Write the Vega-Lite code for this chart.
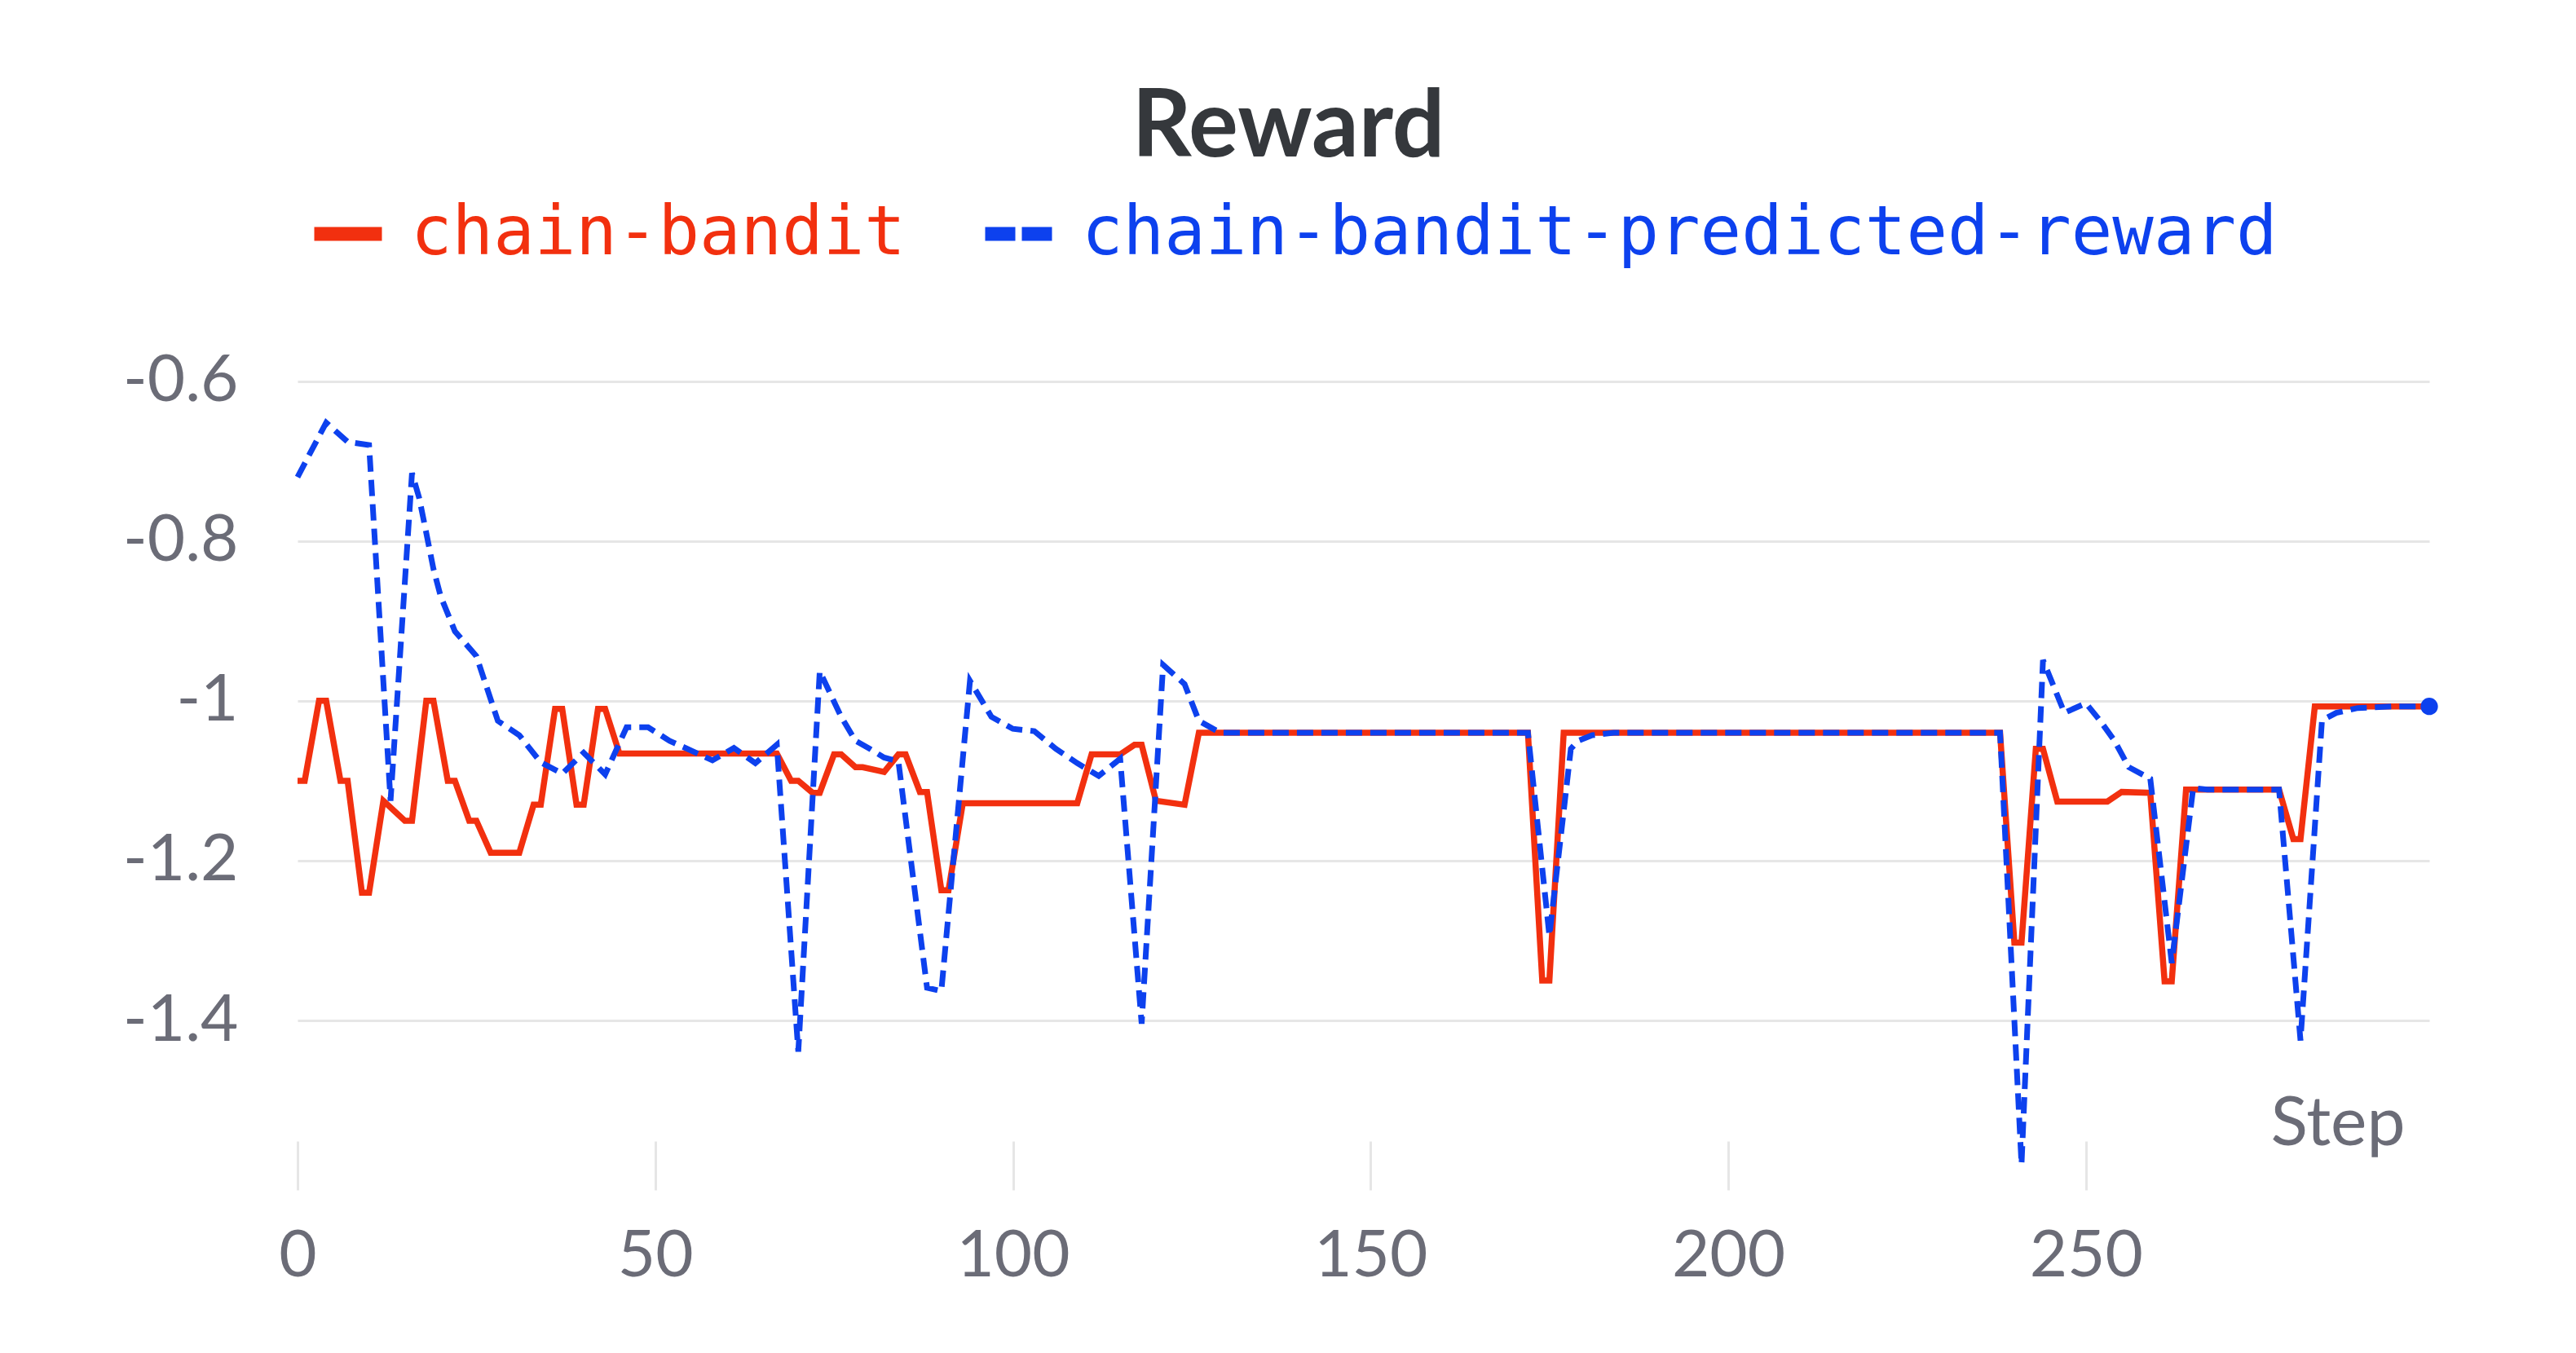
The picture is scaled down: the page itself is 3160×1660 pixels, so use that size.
{
  "$schema": "https://vega.github.io/schema/vega-lite/v6.json",
  "width": 2615,
  "height": 1012,
  "autosize": {"type": "none"},
  "padding": {"left": 365, "top": 448, "right": 180, "bottom": 200},
  "background": "white",
  "config": {"view": {"stroke": null}, "font": "Lato"},
  "title": {"text": "Reward", "font": "Lato", "fontSize": 114, "fontWeight": "bold", "color": "#35383c", "anchor": "middle", "frame": "group", "dx": -92, "offset": 21},
  "data": {"values": [
    {"step": 0, "series": "chain-bandit", "reward": -1.1},
    {"step": 1, "series": "chain-bandit", "reward": -1.1},
    {"step": 3, "series": "chain-bandit", "reward": -1.0},
    {"step": 4, "series": "chain-bandit", "reward": -1.0},
    {"step": 6, "series": "chain-bandit", "reward": -1.1},
    {"step": 7, "series": "chain-bandit", "reward": -1.1},
    {"step": 9, "series": "chain-bandit", "reward": -1.24},
    {"step": 10, "series": "chain-bandit", "reward": -1.24},
    {"step": 12, "series": "chain-bandit", "reward": -1.125},
    {"step": 15, "series": "chain-bandit", "reward": -1.15},
    {"step": 16, "series": "chain-bandit", "reward": -1.15},
    {"step": 18, "series": "chain-bandit", "reward": -1.0},
    {"step": 19, "series": "chain-bandit", "reward": -1.0},
    {"step": 21, "series": "chain-bandit", "reward": -1.1},
    {"step": 22, "series": "chain-bandit", "reward": -1.1},
    {"step": 24, "series": "chain-bandit", "reward": -1.15},
    {"step": 25, "series": "chain-bandit", "reward": -1.15},
    {"step": 27, "series": "chain-bandit", "reward": -1.19},
    {"step": 31, "series": "chain-bandit", "reward": -1.19},
    {"step": 33, "series": "chain-bandit", "reward": -1.13},
    {"step": 34, "series": "chain-bandit", "reward": -1.13},
    {"step": 36, "series": "chain-bandit", "reward": -1.01},
    {"step": 37, "series": "chain-bandit", "reward": -1.01},
    {"step": 39, "series": "chain-bandit", "reward": -1.13},
    {"step": 40, "series": "chain-bandit", "reward": -1.13},
    {"step": 42, "series": "chain-bandit", "reward": -1.01},
    {"step": 43, "series": "chain-bandit", "reward": -1.01},
    {"step": 45, "series": "chain-bandit", "reward": -1.066},
    {"step": 67, "series": "chain-bandit", "reward": -1.066},
    {"step": 69, "series": "chain-bandit", "reward": -1.1},
    {"step": 70, "series": "chain-bandit", "reward": -1.1},
    {"step": 72, "series": "chain-bandit", "reward": -1.115},
    {"step": 73, "series": "chain-bandit", "reward": -1.115},
    {"step": 75, "series": "chain-bandit", "reward": -1.067},
    {"step": 76, "series": "chain-bandit", "reward": -1.067},
    {"step": 78, "series": "chain-bandit", "reward": -1.083},
    {"step": 79, "series": "chain-bandit", "reward": -1.083},
    {"step": 81, "series": "chain-bandit", "reward": -1.087},
    {"step": 82, "series": "chain-bandit", "reward": -1.089},
    {"step": 84, "series": "chain-bandit", "reward": -1.067},
    {"step": 85, "series": "chain-bandit", "reward": -1.067},
    {"step": 87, "series": "chain-bandit", "reward": -1.114},
    {"step": 88, "series": "chain-bandit", "reward": -1.114},
    {"step": 90, "series": "chain-bandit", "reward": -1.237},
    {"step": 91, "series": "chain-bandit", "reward": -1.237},
    {"step": 93, "series": "chain-bandit", "reward": -1.128},
    {"step": 109, "series": "chain-bandit", "reward": -1.128},
    {"step": 111, "series": "chain-bandit", "reward": -1.067},
    {"step": 115, "series": "chain-bandit", "reward": -1.067},
    {"step": 117, "series": "chain-bandit", "reward": -1.055},
    {"step": 118, "series": "chain-bandit", "reward": -1.055},
    {"step": 120, "series": "chain-bandit", "reward": -1.125},
    {"step": 124, "series": "chain-bandit", "reward": -1.13},
    {"step": 126, "series": "chain-bandit", "reward": -1.04},
    {"step": 172, "series": "chain-bandit", "reward": -1.04},
    {"step": 174, "series": "chain-bandit", "reward": -1.35},
    {"step": 175, "series": "chain-bandit", "reward": -1.35},
    {"step": 177, "series": "chain-bandit", "reward": -1.04},
    {"step": 238, "series": "chain-bandit", "reward": -1.04},
    {"step": 240, "series": "chain-bandit", "reward": -1.3025},
    {"step": 241, "series": "chain-bandit", "reward": -1.3025},
    {"step": 243, "series": "chain-bandit", "reward": -1.06},
    {"step": 244, "series": "chain-bandit", "reward": -1.06},
    {"step": 246, "series": "chain-bandit", "reward": -1.126},
    {"step": 253, "series": "chain-bandit", "reward": -1.126},
    {"step": 255, "series": "chain-bandit", "reward": -1.114},
    {"step": 259, "series": "chain-bandit", "reward": -1.115},
    {"step": 261, "series": "chain-bandit", "reward": -1.351},
    {"step": 262, "series": "chain-bandit", "reward": -1.351},
    {"step": 264, "series": "chain-bandit", "reward": -1.111},
    {"step": 277, "series": "chain-bandit", "reward": -1.111},
    {"step": 279, "series": "chain-bandit", "reward": -1.173},
    {"step": 280, "series": "chain-bandit", "reward": -1.173},
    {"step": 282, "series": "chain-bandit", "reward": -1.007},
    {"step": 298, "series": "chain-bandit", "reward": -1.007},
    {"step": 0, "series": "chain-bandit-predicted-reward", "reward": -0.72},
    {"step": 4, "series": "chain-bandit-predicted-reward", "reward": -0.652},
    {"step": 7, "series": "chain-bandit-predicted-reward", "reward": -0.676},
    {"step": 10, "series": "chain-bandit-predicted-reward", "reward": -0.68},
    {"step": 13, "series": "chain-bandit-predicted-reward", "reward": -1.125},
    {"step": 16, "series": "chain-bandit-predicted-reward", "reward": -0.715},
    {"step": 17, "series": "chain-bandit-predicted-reward", "reward": -0.746},
    {"step": 18, "series": "chain-bandit-predicted-reward", "reward": -0.79},
    {"step": 19, "series": "chain-bandit-predicted-reward", "reward": -0.835},
    {"step": 20, "series": "chain-bandit-predicted-reward", "reward": -0.869},
    {"step": 22, "series": "chain-bandit-predicted-reward", "reward": -0.913},
    {"step": 25, "series": "chain-bandit-predicted-reward", "reward": -0.944},
    {"step": 28, "series": "chain-bandit-predicted-reward", "reward": -1.025},
    {"step": 31, "series": "chain-bandit-predicted-reward", "reward": -1.043},
    {"step": 34, "series": "chain-bandit-predicted-reward", "reward": -1.077},
    {"step": 37, "series": "chain-bandit-predicted-reward", "reward": -1.091},
    {"step": 40, "series": "chain-bandit-predicted-reward", "reward": -1.065},
    {"step": 43, "series": "chain-bandit-predicted-reward", "reward": -1.092},
    {"step": 46, "series": "chain-bandit-predicted-reward", "reward": -1.033},
    {"step": 49, "series": "chain-bandit-predicted-reward", "reward": -1.033},
    {"step": 52, "series": "chain-bandit-predicted-reward", "reward": -1.05},
    {"step": 54, "series": "chain-bandit-predicted-reward", "reward": -1.058},
    {"step": 58, "series": "chain-bandit-predicted-reward", "reward": -1.0745},
    {"step": 61, "series": "chain-bandit-predicted-reward", "reward": -1.059},
    {"step": 64, "series": "chain-bandit-predicted-reward", "reward": -1.078},
    {"step": 67, "series": "chain-bandit-predicted-reward", "reward": -1.055},
    {"step": 70, "series": "chain-bandit-predicted-reward", "reward": -1.439},
    {"step": 73, "series": "chain-bandit-predicted-reward", "reward": -0.963},
    {"step": 76, "series": "chain-bandit-predicted-reward", "reward": -1.02},
    {"step": 78, "series": "chain-bandit-predicted-reward", "reward": -1.05},
    {"step": 80, "series": "chain-bandit-predicted-reward", "reward": -1.06},
    {"step": 82, "series": "chain-bandit-predicted-reward", "reward": -1.071},
    {"step": 84, "series": "chain-bandit-predicted-reward", "reward": -1.076},
    {"step": 88, "series": "chain-bandit-predicted-reward", "reward": -1.359},
    {"step": 90, "series": "chain-bandit-predicted-reward", "reward": -1.363},
    {"step": 94, "series": "chain-bandit-predicted-reward", "reward": -0.975},
    {"step": 97, "series": "chain-bandit-predicted-reward", "reward": -1.02},
    {"step": 100, "series": "chain-bandit-predicted-reward", "reward": -1.035},
    {"step": 103, "series": "chain-bandit-predicted-reward", "reward": -1.038},
    {"step": 106, "series": "chain-bandit-predicted-reward", "reward": -1.06},
    {"step": 109, "series": "chain-bandit-predicted-reward", "reward": -1.078},
    {"step": 112, "series": "chain-bandit-predicted-reward", "reward": -1.094},
    {"step": 115, "series": "chain-bandit-predicted-reward", "reward": -1.0725},
    {"step": 118, "series": "chain-bandit-predicted-reward", "reward": -1.404},
    {"step": 121, "series": "chain-bandit-predicted-reward", "reward": -0.955},
    {"step": 124, "series": "chain-bandit-predicted-reward", "reward": -0.979},
    {"step": 126, "series": "chain-bandit-predicted-reward", "reward": -1.025},
    {"step": 129, "series": "chain-bandit-predicted-reward", "reward": -1.04},
    {"step": 172, "series": "chain-bandit-predicted-reward", "reward": -1.04},
    {"step": 175, "series": "chain-bandit-predicted-reward", "reward": -1.294},
    {"step": 178, "series": "chain-bandit-predicted-reward", "reward": -1.06},
    {"step": 179, "series": "chain-bandit-predicted-reward", "reward": -1.05},
    {"step": 181, "series": "chain-bandit-predicted-reward", "reward": -1.043},
    {"step": 184, "series": "chain-bandit-predicted-reward", "reward": -1.04},
    {"step": 238, "series": "chain-bandit-predicted-reward", "reward": -1.04},
    {"step": 241, "series": "chain-bandit-predicted-reward", "reward": -1.58},
    {"step": 244, "series": "chain-bandit-predicted-reward", "reward": -0.949},
    {"step": 247, "series": "chain-bandit-predicted-reward", "reward": -1.015},
    {"step": 250, "series": "chain-bandit-predicted-reward", "reward": -1.003},
    {"step": 252, "series": "chain-bandit-predicted-reward", "reward": -1.025},
    {"step": 254, "series": "chain-bandit-predicted-reward", "reward": -1.05},
    {"step": 256, "series": "chain-bandit-predicted-reward", "reward": -1.083},
    {"step": 259, "series": "chain-bandit-predicted-reward", "reward": -1.0975},
    {"step": 262, "series": "chain-bandit-predicted-reward", "reward": -1.328},
    {"step": 265, "series": "chain-bandit-predicted-reward", "reward": -1.109},
    {"step": 267, "series": "chain-bandit-predicted-reward", "reward": -1.111},
    {"step": 277, "series": "chain-bandit-predicted-reward", "reward": -1.111},
    {"step": 280, "series": "chain-bandit-predicted-reward", "reward": -1.425},
    {"step": 283, "series": "chain-bandit-predicted-reward", "reward": -1.0245},
    {"step": 285, "series": "chain-bandit-predicted-reward", "reward": -1.015},
    {"step": 288, "series": "chain-bandit-predicted-reward", "reward": -1.009},
    {"step": 293, "series": "chain-bandit-predicted-reward", "reward": -1.007},
    {"step": 298, "series": "chain-bandit-predicted-reward", "reward": -1.007}
  ]},
  "encoding": {
    "x": {
      "field": "step", "type": "quantitative",
      "scale": {"domain": [0, 298], "nice": false, "zero": false},
      "axis": {
        "values": [0, 50, 100, 150, 200, 250],
        "title": "Step", "grid": false, "domain": false,
        "ticks": true, "tickColor": "#e6e6e6", "tickWidth": 3, "tickSize": 60, "offset": -60,
        "labelFont": "Lato", "labelFontSize": 80, "labelColor": "#6b6c77", "labelPadding": 42,
        "labelFlush": false,
        "titleFont": "Lato", "titleFontSize": 84, "titleFontWeight": "normal", "titleColor": "#6b6c77",
        "titleX": 2585, "titleY": 4, "titleAlign": "right", "titleBaseline": "alphabetic", "titleAnchor": null
      }
    },
    "y": {
      "field": "reward", "type": "quantitative",
      "scale": {"domain": [-1.612, -0.58], "nice": false, "zero": false},
      "axis": {
        "values": [-1.4, -1.2, -1, -0.8, -0.6],
        "title": null, "domain": false, "ticks": false,
        "grid": true, "gridColor": "#e6e6e6", "gridWidth": 3,
        "labelFont": "Lato", "labelFontSize": 80, "labelColor": "#6b6c77", "labelPadding": 73,
        "labelExpr": "(datum.value < 0 ? '-' : '') + format(abs(datum.value), '~g')"
      }
    },
    "color": {
      "field": "series", "type": "nominal",
      "scale": {"domain": ["chain-bandit", "chain-bandit-predicted-reward"], "range": ["#f2300f", "#0d41ee"]},
      "legend": {
        "orient": "none", "legendX": 12, "legendY": -211, "direction": "horizontal",
        "title": null, "symbolType": "stroke", "symbolSize": 6889, "symbolStrokeWidth": 17,
        "labelFont": "DejaVu Sans Mono", "labelFontSize": 84, "labelOffset": 27, "labelLimit": 0,
        "columnPadding": 63, "padding": 0,
        "encode": {
          "symbols": {"update": {"strokeDash": {"signal": "datum.value == 'chain-bandit' ? [1, 0] : [37, 8]"}}},
          "labels": {"update": {"fill": {"signal": "datum.value == 'chain-bandit' ? '#f2300f' : '#0d41ee'"}}}
        }
      }
    }
  },
  "layer": [
    {
      "transform": [{"filter": "datum.series == 'chain-bandit'"}],
      "mark": {"type": "line", "strokeWidth": 7.5, "clip": false}
    },
    {
      "transform": [{"filter": "datum.series == 'chain-bandit-predicted-reward'"}],
      "mark": {"type": "line", "strokeWidth": 7, "strokeDash": [20, 10], "clip": false}
    },
    {
      "transform": [{"filter": "datum.step == 298 && datum.series == 'chain-bandit-predicted-reward'"}],
      "mark": {"type": "point", "filled": true, "size": 452, "opacity": 1},
      "encoding": {"color": {"value": "#0d41ee"}}
    }
  ]
}
